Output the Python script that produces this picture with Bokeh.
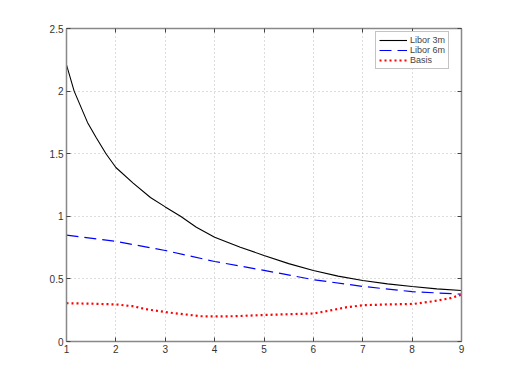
from bokeh.plotting import figure
from bokeh.models import FixedTicker, LinearAxis, Range1d, Legend, LegendItem
from bokeh.embed import file_html
from bokeh.resources import INLINE

# Data
x3m = [1, 1.155, 1.425, 1.6, 1.8, 2, 2.35, 2.7, 3, 3.31, 3.63, 4, 4.52, 5, 5.5, 6, 6.5, 7, 7.5, 8, 8.5, 9]
libor3m = [2.21, 2.0, 1.75, 1.63, 1.5, 1.39, 1.265, 1.15, 1.075, 1.0, 0.913, 0.833, 0.753, 0.687, 0.622,
           0.567, 0.522, 0.487, 0.46, 0.439, 0.42, 0.407]
x6m = [1, 2, 3, 4, 5, 6, 7, 8, 9]
libor6m = [0.85, 0.80, 0.727, 0.639, 0.568, 0.494, 0.44, 0.398, 0.378]
xb = [1, 1.5, 2, 2.34, 2.64, 3.02, 3.41, 3.72, 4.02, 4.43, 4.94, 5.5, 6.01, 6.34, 6.68, 7.02, 7.5,
      8.03, 8.44, 8.77, 9]
basis = [0.306, 0.302, 0.296, 0.282, 0.256, 0.234, 0.216, 0.202, 0.2, 0.202, 0.211, 0.218, 0.224,
         0.248, 0.274, 0.29, 0.296, 0.30, 0.322, 0.346, 0.373]

x_ticks = [1, 2, 3, 4, 5, 6, 7, 8, 9]
y_ticks = [0, 0.5, 1, 1.5, 2, 2.5]
y_tick_labels = ["0", "0.5", "1", "1.5", "2", "2.5"]

FONT = "Liberation Sans"
AXIS_COLOR = "#888888"

p = figure(frame_width=395, frame_height=313, output_backend="svg", toolbar_location=None,
           x_range=Range1d(1, 9), y_range=Range1d(0, 2.5),
           min_border_left=66, min_border_top=28, min_border_right=30, min_border_bottom=26,
           x_axis_location=None, y_axis_location=None)
p.background_fill_color = "white"
p.border_fill_color = "white"
p.outline_line_color = None

def style_axis(ax, ticks, labels=True, overrides=None):
    ax.ticker = FixedTicker(ticks=ticks)
    ax.axis_line_color = AXIS_COLOR
    ax.axis_line_width = 1.5
    ax.major_tick_line_color = "#444444"
    ax.major_tick_in = 4
    ax.major_tick_out = 0
    ax.minor_tick_line_color = None
    ax.major_label_text_font = FONT
    ax.major_label_text_font_size = "10px"
    ax.major_label_text_color = "#333333"
    ax.major_label_standoff = 3
    if overrides:
        ax.major_label_overrides = overrides
    if not labels:
        ax.major_label_overrides = {t: "" for t in ticks}
        ax.major_label_standoff = 0

xb_axis = LinearAxis()
style_axis(xb_axis, x_ticks)
p.add_layout(xb_axis, "below")
yl_axis = LinearAxis()
style_axis(yl_axis, y_ticks, overrides={t: l for t, l in zip(y_ticks, y_tick_labels)})
p.add_layout(yl_axis, "left")
xt_axis = LinearAxis()
style_axis(xt_axis, x_ticks, labels=False)
p.add_layout(xt_axis, "above")
yr_axis = LinearAxis()
style_axis(yr_axis, y_ticks, labels=False)
p.add_layout(yr_axis, "right")

for g in (p.xgrid, p.ygrid):
    g.grid_line_color = "#bbbbbb"
    g.grid_line_dash = "1 3"
    g.grid_line_width = 1
p.xgrid.ticker = FixedTicker(ticks=x_ticks)
p.ygrid.ticker = FixedTicker(ticks=y_ticks)

r1 = p.line(x3m, libor3m, line_color="black", line_width=1.1)
r2 = p.line(x6m, libor6m, line_color="#0000ff", line_width=1.2, line_dash="12 6")
r3 = p.line(xb, basis, line_color="#ff0000", line_width=2.2, line_dash="2 3")

legend = Legend(items=[LegendItem(label="Libor 3m", renderers=[r1]),
                       LegendItem(label="Libor 6m", renderers=[r2]),
                       LegendItem(label="Basis", renderers=[r3])],
                location=(309, 272))
legend.label_text_font = FONT
legend.label_text_font_size = "9px"
legend.label_height = 8
legend.glyph_height = 8
legend.glyph_width = 28
legend.label_standoff = 3
legend.spacing = 0
legend.padding = 3
legend.margin = 0
legend.border_line_color = AXIS_COLOR
legend.border_line_width = 1
legend.background_fill_alpha = 1
p.add_layout(legend, "center")

open("out.html", "w").write(file_html(p, INLINE))
